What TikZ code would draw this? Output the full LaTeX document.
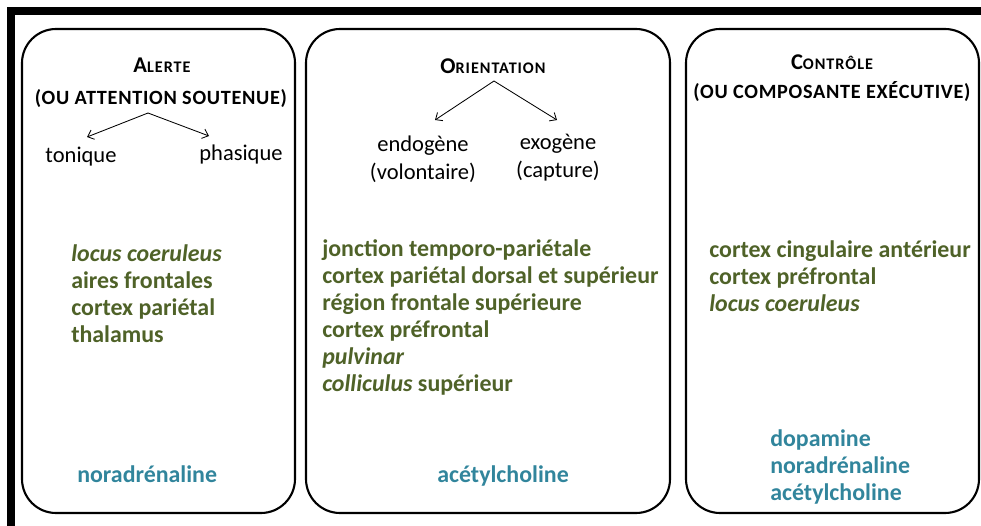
\documentclass[tikz,border=0pt]{standalone}
\usepackage{fontspec}
\setmainfont{Carlito}
\newfontfamily\petitescaps[LetterSpace=6]{Carlito}
\newfontfamily\grandescaps[LetterSpace=3.5]{Carlito}
\usetikzlibrary{positioning,arrows.meta}
\definecolor{vertolive}{HTML}{4F6228}
\definecolor{bleucanard}{HTML}{31859C}
\newcommand{\corps}{\fontsize{17pt}{19.2pt}\selectfont}
\newcommand{\choixfont}{\fontsize{16pt}{19.5pt}\selectfont}
% fausses petites capitales
\newcommand{\pc}[2]{{\fontsize{16pt}{18pt}\selectfont\bfseries #1}{\petitescaps\fontsize{11.5pt}{13pt}\selectfont\bfseries #2}}
\newcommand{\sous}[1]{{\grandescaps\fontsize{14.4pt}{17pt}\selectfont\bfseries #1}}

\begin{document}
\begin{tikzpicture}[x=0.025cm, y=-0.025cm, >={Straight Barb[length=4pt,width=7pt]},
  boite/.style={line width=1.5pt, rounded corners=0.85cm},
  titre/.style={inner sep=0pt, anchor=base},
  choix/.style={font=\choixfont, inner sep=0pt, align=center},
  fleche/.style={->, line width=0.6pt},
  region/.style={font=\corps\bfseries, text=vertolive, inner sep=0pt, anchor=north west, align=left},
  neuro/.style={font=\corps\bfseries, text=bleucanard, inner sep=0pt, anchor=north west, align=left}]
\useasboundingbox (0,0) rectangle (981,526);
%cadre
\draw[line width=5.7pt] (11,526) -- (11,11) -- (981,11);
%boites
\draw[boite] (22,29) rectangle (295,513);
\draw[boite] (306,29) rectangle (670,513);
\draw[boite] (686,29) rectangle (979,513);
%alerte
\node[titre] (alerte) at (162,72) {\pc{A}{LERTE}};
\node[titre] (alerte2) at (161,104) {\sous{(OU ATTENTION SOUTENUE)}};
\node[choix, anchor=base] (tonique) at (81,162) {tonique};
\node[choix, anchor=base] (phasique) at (241,160) {phasique};
\coordinate (alerte-pointe) at (148,113);
\coordinate (alerte-g) at (87,137);
\coordinate (alerte-d) at (209,136);
\draw[fleche] (alerte-pointe) -- (alerte-g);
\draw[fleche] (alerte-pointe) -- (alerte-d);
\node[region] (alerte-regions) at (71,244) {\textit{locus coeruleus}\\aires frontales\\cortex pariétal\\thalamus};
\node[neuro, anchor=base west] (alerte-neuro) at (77,482) {noradrénaline};
%orientation
\node[titre] (orientation) at (493,73) {\pc{O}{RIENTATION}};
\node[choix, anchor=north] (endogene) at (423,136) {endogène\\(volontaire)};
\node[choix, anchor=north] (exogene) at (558,134) {exogène\\(capture)};
\coordinate (orientation-pointe) at (494,81);
\coordinate (orientation-g) at (435,120);
\coordinate (orientation-d) at (557,120);
\draw[fleche] (orientation-pointe) -- (orientation-g);
\draw[fleche] (orientation-pointe) -- (orientation-d);
\node[region] (orientation-regions) at (322,239) {jonction temporo-pariétale\\cortex pariétal dorsal et supérieur\\région frontale supérieure\\cortex préfrontal\\\textit{pulvinar}\\\textit{colliculus} supérieur};
\node[neuro, anchor=base west] (orientation-neuro) at (437,482) {acétylcholine};
%controle
\node[titre] (controle) at (832,69) {\pc{C}{ONTRÔLE}};
\node[titre] (controle2) at (832,98) {\sous{(OU COMPOSANTE EXÉCUTIVE)}};
\node[region] (controle-regions) at (709,240) {cortex cingulaire antérieur\\cortex préfrontal\\\textit{locus coeruleus}};
\node[neuro] (controle-neuro) at (770,429) {dopamine\\noradrénaline\\acétylcholine};
\end{tikzpicture}
\end{document}
